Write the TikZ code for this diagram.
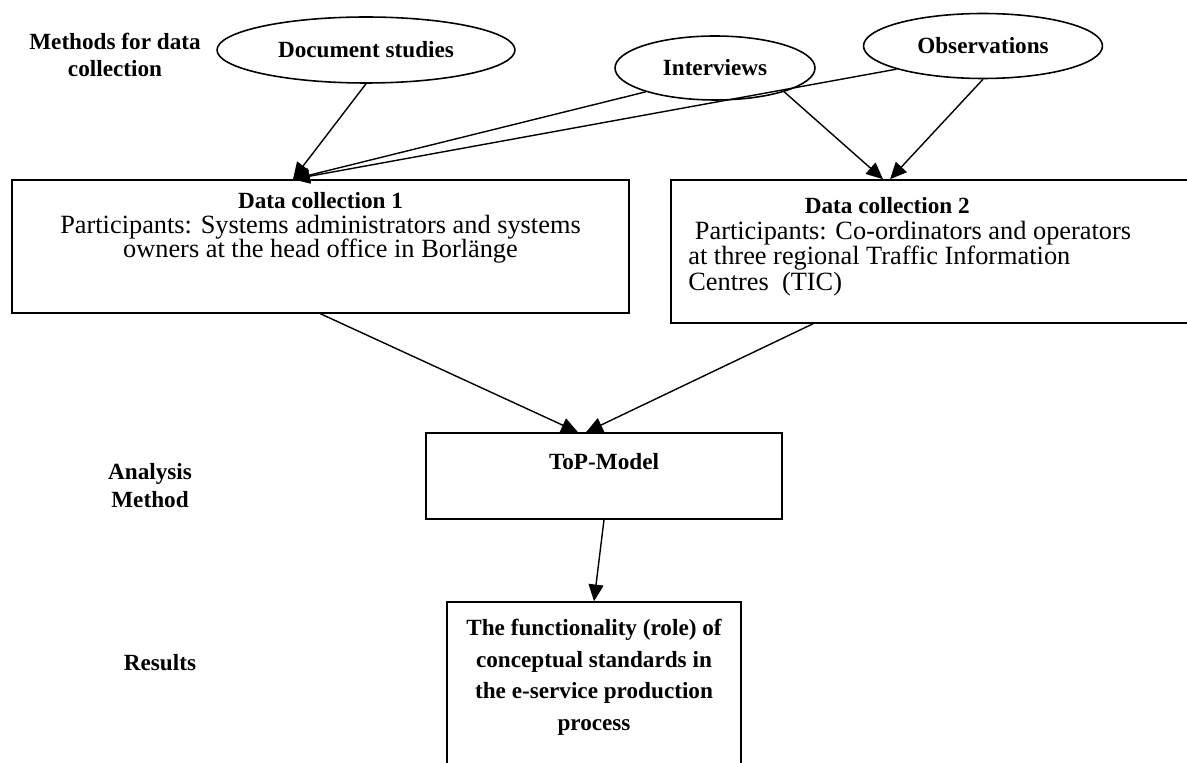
\documentclass[tikz,border=0pt]{standalone}
\usepackage{fontspec}
\setmainfont{Liberation Serif}
\usetikzlibrary{shapes.geometric,arrows.meta,positioning}

\newcommand\tightlines{\lineskiplimit=-6pt\relax}
\newcommand\boxtitle{\fontsize{13.2}{13.7}\selectfont\bfseries}

\tikzset{
  box/.style={draw, line width=0.9pt, rectangle, inner sep=0pt},
  method/.style={draw, line width=0.9pt, ellipse, inner sep=0pt,
    font=\fontsize{13.2}{15}\selectfont\bfseries},
  heading/.style={align=center, inner sep=0pt,
    font={\fontsize{13.2}{15.4}\selectfont\bfseries\tightlines}},
  boxtext/.style={inner sep=0pt, font={\fontsize{15}{13.9}\selectfont\tightlines}},
  flow/.style={line width=0.8pt, -{Triangle[length=9.5pt,width=8.5pt]}},
}

\begin{document}
\begin{tikzpicture}[x=0.02cm,y=-0.02cm]
	\useasboundingbox (0,0) rectangle (1187,763);

	% row labels on the left
	\node[heading] (lblmethods) at (115,55) {Methods for data\\collection};
	\node[heading, font={\fontsize{13.2}{16}\selectfont\bfseries}] (lblanalysis) at (150,486) {Analysis\\Method};
	\node[heading] (lblresults) at (160,663) {Results};

	% methods
	\node[method, minimum width=5.96cm, minimum height=1.32cm] (docs) at (366,50) {Document studies};
	\node[method, minimum width=4cm, minimum height=1.28cm] (intv) at (715,68) {Interviews};
	\node[method, minimum width=4.78cm, minimum height=1.3cm] (obs) at (983,46) {Observations};

	% data collection boxes
	\node[box, minimum width=12.34cm, minimum height=2.66cm] (dcA) at (320.5,246.5) {};
	\node[boxtext, align=center, below=0.26cm of dcA.north] (dcAtext)
		{{\boxtitle Data collection 1}\\
		 Participants: Systems administrators and systems\\
		 owners at the head office in Borlänge};

	\node[box, minimum width=10.38cm, minimum height=2.86cm] (dcB) at (930.5,251.5) {};
	\node[boxtext, font={\fontsize{15}{14.6}\selectfont\tightlines}, align=left, anchor=north west] (dcBtext) at (688,197)
		{\makebox[7.96cm][c]{\boxtitle Data collection 2}\\
		 \ Participants: Co-ordinators and operators\\
		 at three regional Traffic Information\\
		 Centres~ (TIC)};

	% analysis and result
	\node[box, minimum width=7.12cm, minimum height=1.72cm] (top) at (604,476) {};
	\node[heading, font=\boxtitle, below=0.42cm of top.north] (toptext) {ToP-Model};

	\node[box, minimum width=5.88cm, minimum height=3.56cm] (res) at (594,691) {};
	\node[heading, font={\fontsize{13.2}{17.9}\selectfont\bfseries}, below=0.36cm of res.north] (restext)
		{The functionality (role) of\\conceptual standards in\\the e-service production\\process};

	% connectors
	\draw[flow] (docs.south) -- ([xshift=-0.55cm]dcA.north);
	\draw[flow] (intv.199) -- ([xshift=-0.55cm]dcA.north);
	\draw[flow] (obs.195) -- ([xshift=-0.55cm]dcA.north);
	\draw[flow] (intv.341) -- ([xshift=-0.95cm]dcB.north);
	\draw[flow] (obs.south) -- ([xshift=-0.81cm]dcB.north);
	\draw[flow] (dcA.south) -- ([xshift=-0.52cm]top.north);
	\draw[flow] ([xshift=-2.35cm]dcB.south) -- ([xshift=-0.36cm]top.north);
	\draw[flow] (top.south) -- (res.north);
\end{tikzpicture}
\end{document}
